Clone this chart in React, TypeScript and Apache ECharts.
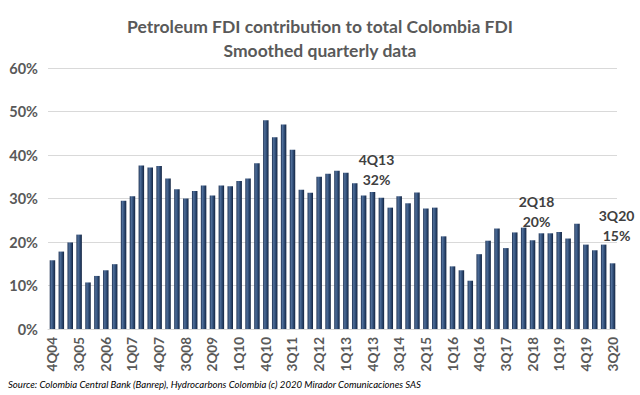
import React, { useEffect, useRef } from "react";
import * as echarts from "echarts";

const categories = [
  "4Q04",
  "1Q05", "2Q05", "3Q05", "4Q05",
  "1Q06", "2Q06", "3Q06", "4Q06",
  "1Q07", "2Q07", "3Q07", "4Q07",
  "1Q08", "2Q08", "3Q08", "4Q08",
  "1Q09", "2Q09", "3Q09", "4Q09",
  "1Q10", "2Q10", "3Q10", "4Q10",
  "1Q11", "2Q11", "3Q11", "4Q11",
  "1Q12", "2Q12", "3Q12", "4Q12",
  "1Q13", "2Q13", "3Q13", "4Q13",
  "1Q14", "2Q14", "3Q14", "4Q14",
  "1Q15", "2Q15", "3Q15", "4Q15",
  "1Q16", "2Q16", "3Q16", "4Q16",
  "1Q17", "2Q17", "3Q17", "4Q17",
  "1Q18", "2Q18", "3Q18", "4Q18",
  "1Q19", "2Q19", "3Q19", "4Q19",
  "1Q20", "2Q20", "3Q20",
];

const petroleumShare = [
  15.8, 17.8, 19.9, 21.7, 10.7, 12.2, 13.5, 14.9, 29.5, 30.5,
  37.6, 37.1, 37.5, 34.6, 32.1, 30.0, 31.7, 33.0, 30.7, 33.0,
  32.8, 34.0, 34.6, 38.1, 48.0, 44.1, 47.0, 41.2, 32.0, 31.3,
  35.0, 35.7, 36.4, 35.9, 33.5, 30.7, 31.5, 30.2, 27.9, 30.5,
  28.9, 31.4, 27.7, 27.9, 21.3, 14.4, 13.5, 11.1, 17.2, 20.3,
  23.1, 18.6, 22.2, 23.3, 20.4, 22.0, 22.0, 22.3, 20.8, 24.2,
  19.4, 18.1, 19.4, 15.1,
];

const annotations = [
  { category: "4Q13", text: "4Q13\n32%", distance: 2 },
  { category: "2Q18", text: "2Q18\n20%", distance: 9 },
  { category: "3Q20", text: "3Q20\n15%", distance: 18 },
];

const titleLines = ["Petroleum FDI contribution to total Colombia FDI", "Smoothed quarterly data"];
const sourceText =
  "Source: Colombia Central Bank (Banrep), Hydrocarbons Colombia (c) 2020 Mirador Comunicaciones SAS";

const FONT = "Lato, 'Open Sans', sans-serif";

export default function App() {
  const ref = useRef<HTMLDivElement>(null);

  useEffect(() => {
    document.body.style.margin = "0";
    if (!ref.current) return;
    const chart = echarts.init(ref.current, null, { renderer: "svg" });

    const barColor = new echarts.graphic.LinearGradient(0, 0, 1, 0, [
      { offset: 0, color: "#1c2f4f" },
      { offset: 0.3, color: "#4f6e99" },
      { offset: 0.65, color: "#2d4a73" },
      { offset: 1, color: "#142440" },
    ]);

    const data = petroleumShare.map((v, i) => {
      const ann = annotations.find((a) => a.category === categories[i]);
      if (!ann) return v;
      return {
        value: v,
        label: {
          show: true,
          position: "top",
          distance: ann.distance,
          offset: [4, 0],
          formatter: ann.text,
          fontFamily: FONT,
          fontWeight: "bold",
          fontSize: 14,
          lineHeight: 20,
          color: "#404040",
          align: "center",
        },
      };
    });

    chart.setOption({
      animation: false,
      backgroundColor: "#ffffff",
      title: {
        text: titleLines.join("\n"),
        left: "center",
        top: 9,
        textStyle: {
          fontFamily: FONT,
          fontWeight: "bold",
          fontSize: 17.5,
          lineHeight: 24,
          color: "#595959",
        },
      },
      graphic: [
        {
          type: "text",
          left: 8,
          top: 379,
          style: {
            text: sourceText,
            fontFamily: FONT,
            fontStyle: "italic",
            fontSize: 9.6,
            fill: "#000000",
          },
        },
      ],
      grid: { left: 48, right: 23, top: 68, bottom: 66, containLabel: false },
      xAxis: {
        type: "category",
        data: categories,
        axisLine: { show: true, lineStyle: { color: "#d9d9d9", width: 1 } },
        axisTick: { show: false },
        axisLabel: {
          interval: 2,
          rotate: 90,
          margin: 8,
          fontFamily: FONT,
          fontWeight: "bold",
          fontSize: 13.5,
          color: "#595959",
        },
      },
      yAxis: {
        type: "value",
        min: 0,
        max: 60,
        interval: 10,
        axisLine: { show: false },
        axisTick: { show: false },
        splitLine: { lineStyle: { color: "#d9d9d9", width: 1 } },
        axisLabel: {
          formatter: "{value}%",
          margin: 10,
          fontFamily: FONT,
          fontWeight: "bold",
          fontSize: 14.5,
          color: "#595959",
        },
      },
      series: [
        {
          type: "bar",
          data,
          barWidth: 5.5,
          itemStyle: { color: barColor },
        },
      ],
    });

    return () => chart.dispose();
  }, []);

  return <div ref={ref} style={{ width: 640, height: 395 }} />;
}
